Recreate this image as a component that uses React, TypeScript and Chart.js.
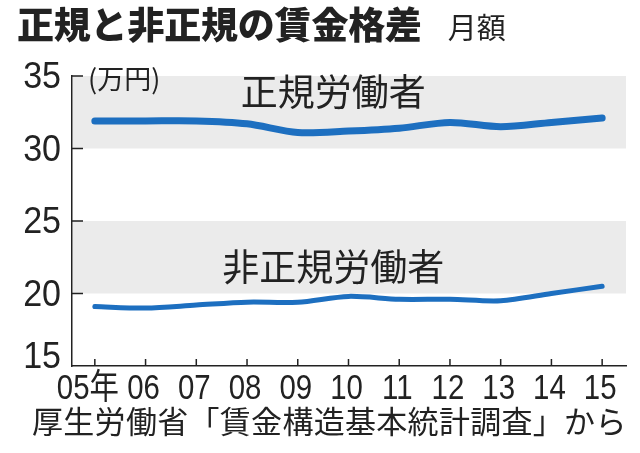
import { useEffect, useRef } from "react";
import { Chart, registerables } from "chart.js";

Chart.register(...registerables);

const years = ["05年", "06", "07", "08", "09", "10", "11", "12", "13", "14", "15"];
const regular = [31.9, 31.9, 31.9, 31.7, 31.1, 31.2, 31.4, 31.8, 31.5, 31.8, 32.1];
const nonRegular = [19.1, 19.0, 19.2, 19.4, 19.4, 19.8, 19.6, 19.6, 19.5, 20.0, 20.5];
const yTicks = [15, 20, 25, 30, 35];
const bands = [
  [30, 35],
  [20, 25],
];
const seriesNames = ["正規労働者", "非正規労働者"];

const NUM_FONT = "'Liberation Sans', 'Noto Sans CJK JP', sans-serif";
const JP_FONT = "'Noto Sans CJK JP', sans-serif";
const BLUE = "#1d6fc0";
const INK = "#222";

// draws text horizontally squeezed around (x, y); the print uses a condensed face for figures
function narrowText(ctx: CanvasRenderingContext2D, text: string, x: number, y: number, squeeze: number) {
  ctx.save();
  ctx.translate(x, y);
  ctx.scale(squeeze, 1);
  ctx.fillText(text, 0, 0);
  ctx.restore();
}

// gray bands behind the lines
const bandPlugin = {
  id: "bands",
  beforeDatasetsDraw(chart: Chart) {
    const { ctx, chartArea, scales } = chart;
    ctx.save();
    ctx.fillStyle = "#ebebeb";
    bands.forEach(([lo, hi]) => {
      const top = scales.y.getPixelForValue(hi);
      const bottom = scales.y.getPixelForValue(lo);
      ctx.fillRect(chartArea.left + 1, top, chartArea.right - chartArea.left - 1, bottom - top);
    });
    ctx.restore();
  },
};

// inward tick marks, condensed tick labels and in-chart labels
const decorPlugin = {
  id: "decor",
  afterDraw(chart: Chart) {
    const { ctx, chartArea, scales } = chart;
    ctx.save();
    ctx.strokeStyle = INK;
    ctx.lineWidth = 1.5;
    ctx.beginPath();
    yTicks.forEach((v) => {
      if (v === yTicks[0]) return;
      const y = scales.y.getPixelForValue(v);
      ctx.moveTo(chartArea.left, y);
      ctx.lineTo(chartArea.left + 11, y);
    });
    years.forEach((_, i) => {
      const x = scales.x.getPixelForValue(i);
      ctx.moveTo(x, chartArea.bottom);
      ctx.lineTo(x, chartArea.bottom - 7);
    });
    ctx.stroke();

    ctx.fillStyle = INK;

    // y labels
    ctx.textAlign = "right";
    ctx.textBaseline = "middle";
    ctx.font = `37px ${NUM_FONT}`;
    yTicks.forEach((v, i) => {
      const y = scales.y.getPixelForValue(v) + (i === 0 ? -8 : 2);
      narrowText(ctx, String(v), chartArea.left - 11, y, 0.92);
    });

    // x labels
    ctx.textAlign = "center";
    ctx.textBaseline = "top";
    ctx.font = `35px ${NUM_FONT}`;
    years.forEach((label, i) => {
      const x = scales.x.getPixelForValue(i) - (i === 0 ? 7 : 2);
      narrowText(ctx, label, x, chartArea.bottom + 6, 0.84);
    });

    ctx.textAlign = "left";
    ctx.textBaseline = "middle";
    ctx.font = `27px ${JP_FONT}`;
    ctx.fillText("(万円)", chartArea.left + 16, scales.y.getPixelForValue(34.8));

    ctx.textAlign = "center";
    ctx.font = `37px ${JP_FONT}`;
    ctx.fillText(seriesNames[0], scales.x.getPixelForValue(4.7), scales.y.getPixelForValue(33.9));
    ctx.fillText(seriesNames[1], scales.x.getPixelForValue(4.7), scales.y.getPixelForValue(21.8));
    ctx.restore();
  },
};

export default function App() {
  const chartRef = useRef<HTMLCanvasElement | null>(null);
  const chartInstance = useRef<Chart | null>(null);

  useEffect(() => {
    document.body.style.margin = "0";
    if (!chartRef.current) return;
    if (chartInstance.current) chartInstance.current.destroy();

    const ctx = chartRef.current.getContext("2d");
    if (!ctx) return;

    chartInstance.current = new Chart(ctx, {
      type: "line",
      data: {
        datasets: [
          {
            label: seriesNames[0],
            data: regular.map((v, i) => ({ x: i, y: v })),
            borderColor: BLUE,
            borderWidth: 7,
            borderCapStyle: "round",
            pointRadius: 0,
            tension: 0.3,
          },
          {
            label: seriesNames[1],
            data: nonRegular.map((v, i) => ({ x: i, y: v })),
            borderColor: BLUE,
            borderWidth: 5,
            borderCapStyle: "round",
            pointRadius: 0,
            tension: 0.3,
          },
        ],
      },
      options: {
        responsive: true,
        maintainAspectRatio: false,
        animation: false,
        layout: { padding: { top: 76, right: 14, left: 0, bottom: 0 } },
        plugins: {
          legend: { display: false },
          tooltip: { enabled: false },
        },
        scales: {
          x: {
            type: "linear",
            min: -0.45,
            max: 10.47,
            grid: { display: false, drawTicks: false },
            border: { display: true, color: INK, width: 1.5 },
            ticks: { display: false },
            afterFit: (scale: any) => {
              scale.height = 87;
            },
          },
          y: {
            min: 15,
            max: 35,
            grid: { display: false, drawTicks: false },
            border: { display: true, color: INK, width: 1.5 },
            ticks: { display: false },
            afterFit: (scale: any) => {
              scale.width = 72;
            },
          },
        },
      },
      plugins: [bandPlugin, decorPlugin],
    });

    return () => {
      if (chartInstance.current) {
        chartInstance.current.destroy();
        chartInstance.current = null;
      }
    };
  }, []);

  return (
    <div style={{ position: "relative", width: 640, height: 453, color: INK, fontFamily: JP_FONT }}>
      <canvas ref={chartRef} style={{ position: "absolute", left: 0, top: 0 }} />
      <div style={{ position: "absolute", left: 17, top: 5, whiteSpace: "nowrap", lineHeight: 1 }}>
        <span style={{ fontSize: 37, fontWeight: 900, letterSpacing: -0.2 }}>正規と非正規の賃金格差</span>
        <span style={{ fontSize: 29, marginLeft: 26 }}>月額</span>
      </div>
      <div
        style={{
          position: "absolute",
          left: 32,
          top: 404,
          fontSize: 31,
          lineHeight: 1,
          whiteSpace: "nowrap",
          letterSpacing: 0.3,
        }}
      >
        厚生労働省「賃金構造基本統計調査」から
      </div>
    </div>
  );
}
